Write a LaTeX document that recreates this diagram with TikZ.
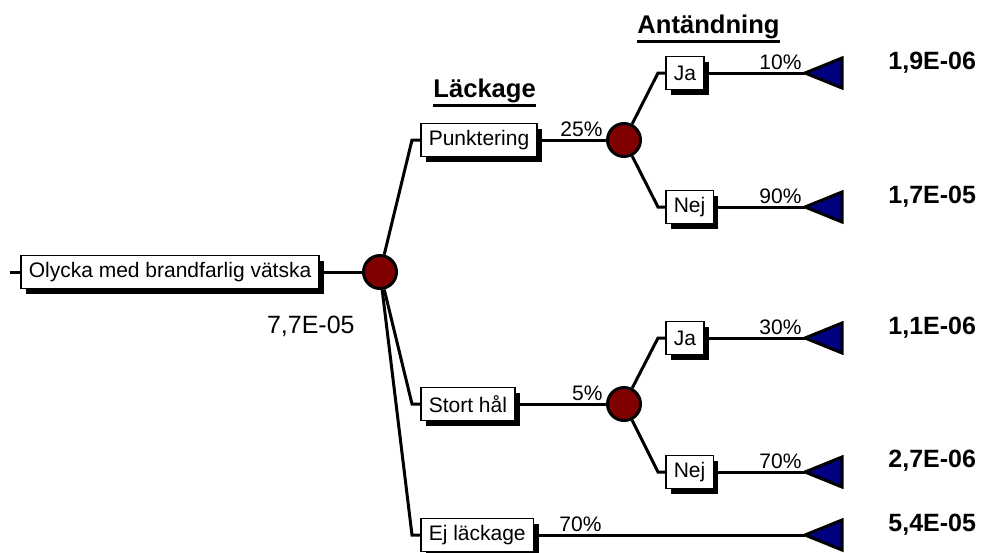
\documentclass[tikz,border=0pt]{standalone}
\usepackage{fontspec}
\setmainfont{Liberation Sans}
\usetikzlibrary{positioning,shadows}
\definecolor{chancered}{RGB}{128,0,0}
\definecolor{endblue}{RGB}{0,0,128}
\tikzset{
  box/.style={draw, fill=white, line width=0.8pt, inner xsep=4pt, inner ysep=0pt,
    minimum height=16.5pt, font=\fontsize{10.5}{12}\selectfont,
    drop shadow={shadow xshift=2.5pt, shadow yshift=-2.5pt, opacity=1, fill=black}},
  chance/.style={circle, draw, line width=1.5pt, fill=chancered, minimum size=16.5pt, inner sep=0pt},
  branch/.style={line width=1.5pt},
  endtri/.style={draw, line width=1.5pt, fill=endblue, line join=miter},
  pct/.style={font=\fontsize{10.5}{12}\selectfont, inner sep=1pt, anchor=south east},
  res/.style={font=\bfseries\fontsize{12.5}{14}\selectfont, anchor=base west, inner sep=0pt},
  head/.style={font=\bfseries\fontsize{12.8}{15}\selectfont, anchor=base west, inner sep=0pt},
}
\begin{document}
\begin{tikzpicture}[x=0.5pt,y=-0.5pt]
  \useasboundingbox (0,0) rectangle (984,552);
  % headings
  \node[head] (lk) at (433,97) {Läckage};
  \draw[line width=1.3pt] ([yshift=-1.2pt]lk.south west) -- ([yshift=-1.2pt]lk.south east);
  \node[head] (an) at (637,33) {Antändning};
  \draw[line width=1.3pt] ([yshift=-1.2pt]an.south west) -- ([yshift=-1.2pt]an.south east);
  % root
  \coordinate (start) at (10,272);
  \node[box, anchor=west] (root) at (20,272) {Olycka med brandfarlig vätska};
  \node[chance] (c0) at (380,272) {};
  \node[font=\fontsize{12.5}{14}\selectfont, anchor=base east, inner sep=0pt] (tot) at (355,333) {7,7E-05};
  % first level
  \coordinate (e1) at (412,140);
  \coordinate (e2) at (412,404);
  \coordinate (e3) at (412,535);
  \node[box, anchor=west] (punk) at (420,140) {Punktering};
  \node[box, anchor=west] (stort) at (420,404) {Stort hål};
  \node[box, anchor=west] (ejl) at (420,535) {Ej läckage};
  \node[chance] (c1) at (624,140) {};
  \node[chance] (c2) at (624,404) {};
  \coordinate (m5) at (605,535);
  % second level
  \coordinate (e11) at (658,73);
  \coordinate (e12) at (658,207);
  \coordinate (e21) at (658,338);
  \coordinate (e22) at (658,472);
  \node[box, anchor=west] (ja1) at (665,73) {Ja};
  \node[box, anchor=west] (nej1) at (665,207) {Nej};
  \node[box, anchor=west] (ja2) at (665,338) {Ja};
  \node[box, anchor=west] (nej2) at (665,472) {Nej};
  \coordinate (t1) at (805,73);
  \coordinate (t2) at (805,207);
  \coordinate (t3) at (805,338);
  \coordinate (t4) at (805,472);
  \coordinate (t5) at (805,535);
  % connectors
  \draw[branch] (start) -- (root) -- (c0);
  \draw[branch] (c0) -- (e1) -- (punk);
  \draw[branch] (c0) -- (e2) -- (stort);
  \draw[branch] (c0) -- (e3) -- (ejl);
  \draw[branch] (punk) -- node[pct, pos=1] {25\%} (c1);
  \draw[branch] (stort) -- node[pct, pos=1] {5\%} (c2);
  \draw[branch] (ejl) -- (m5) node[pct] {70\%} -- (t5);
  \draw[branch] (c1) -- (e11) -- (ja1);
  \draw[branch] (c1) -- (e12) -- (nej1);
  \draw[branch] (c2) -- (e21) -- (ja2);
  \draw[branch] (c2) -- (e22) -- (nej2);
  \draw[branch] (ja1) -- node[pct, pos=1] {10\%} (t1);
  \draw[branch] (nej1) -- node[pct, pos=1] {90\%} (t2);
  \draw[branch] (ja2) -- node[pct, pos=1] {30\%} (t3);
  \draw[branch] (nej2) -- node[pct, pos=1] {70\%} (t4);
  % end points
  \foreach \t in {t1,t2,t3,t4,t5}
    \draw[endtri] (\t) -- ++(37,-15) -- ++(0,30) -- cycle;
  \node[res] (r1) at (888,69) {1,9E-06};
  \node[res] (r2) at (888,203) {1,7E-05};
  \node[res] (r3) at (888,334) {1,1E-06};
  \node[res] (r4) at (888,467) {2,7E-06};
  \node[res] (r5) at (888,531) {5,4E-05};
\end{tikzpicture}
\end{document}
